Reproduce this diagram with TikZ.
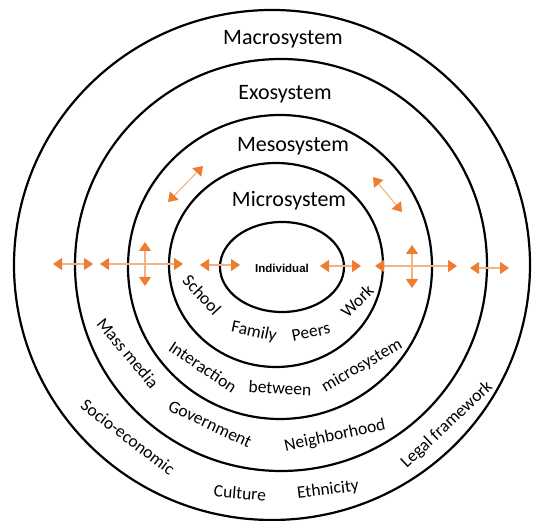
\documentclass[tikz,border=0pt]{standalone}
\usepackage{fontspec}
\setmainfont{Carlito}
\newfontfamily\indfont{Liberation Sans}
\usetikzlibrary{arrows.meta,shapes.geometric}
\definecolor{tangerine}{HTML}{ED7D31}
\definecolor{paletang}{HTML}{F4B183}
\tikzset{
  ring/.style={draw,ellipse,line width=2.2pt,inner sep=0pt,outer sep=0pt},
  sys/.style={font=\fontsize{22}{24}\selectfont,inner sep=0pt},
  word/.style={font=\fontsize{17.5}{19}\selectfont,inner sep=0pt},
  tip/.style={Triangle[length=9pt,width=12pt,color=tangerine]},
  arr/.style={{Triangle[length=9pt,width=12pt,color=tangerine]}-{Triangle[length=9pt,width=12pt,color=tangerine]},draw=paletang,line width=1.1pt}
}

\begin{document}
\begin{tikzpicture}[x=1pt,y=-1pt]
\useasboundingbox (0,0) rectangle (539,521);
% rings, outside in
\node[ring,minimum width=516pt,minimum height=510pt] (macro) at (272,265) {};
\node[ring,minimum width=412pt,minimum height=412pt] (exo) at (281,265) {};
\node[ring,minimum width=304pt,minimum height=304pt] (meso) at (280,267) {};
\node[ring,minimum width=214pt,minimum height=204pt] (micro) at (276,265) {};
\node[ring,minimum width=124pt,minimum height=90pt] (indiv) at (282,267) {};
% system names
\node[sys] (macro-lbl) at (283,39) {Macrosystem};
\node[sys] (exo-lbl) at (285,94) {Exosystem};
\node[sys] (meso-lbl) at (293,146) {Mesosystem};
\node[sys] (micro-lbl) at (289,201) {Microsystem};
\node[font=\indfont\bfseries\fontsize{11.5}{13}\selectfont] (indiv-lbl) at (282,268) {Individual};
% words in the rings
\node[word,rotate=-47] (school) at (202,295) {School};
\node[word,rotate=-12] (family) at (254,332) {Family};
\node[word,rotate=12] (peers) at (311,332) {Peers};
\node[word,rotate=45] (work) at (357,301) {Work};
\node[word,rotate=-34] (inter) at (203,367) {Interaction};
\node[word,rotate=-3] (betw) at (280,388) {between};
\node[word,rotate=30] (micro-w) at (362,366) {microsystem};
\node[word,rotate=-50] (media) at (128,353) {Mass media};
\node[word,rotate=-25] (gov) at (210,424) {Government};
\node[word,rotate=12] (hood) at (335,436) {Neighborhood};
\node[word,rotate=-37] (socio) at (128,437) {Socio-economic};
\node[word,rotate=-5] (cult) at (240,493) {Culture};
\node[word,rotate=7] (eth) at (328,490) {Ethnicity};
\node[word,rotate=43] (legal) at (447,425) {Legal framework};
% two-way arrows
\foreach \n/\xa/\ya/\xb/\yb in {h1/53/264/93/264, h2/100/264/183/264, v2/145/242/145/286,
  h3/200/265/240/265, h4/320/266/361/266, h5/375/266/457/266, v5/412/245/412/288,
  h6/470/268/509/268, d1/168/202/203/166, d2/373/177/402/212}{
  \coordinate (\n-a) at (\xa,\ya);
  \coordinate (\n-b) at (\xb,\yb);
  \draw[arr] (\n-a) -- (\n-b);
}
\end{tikzpicture}
\end{document}
